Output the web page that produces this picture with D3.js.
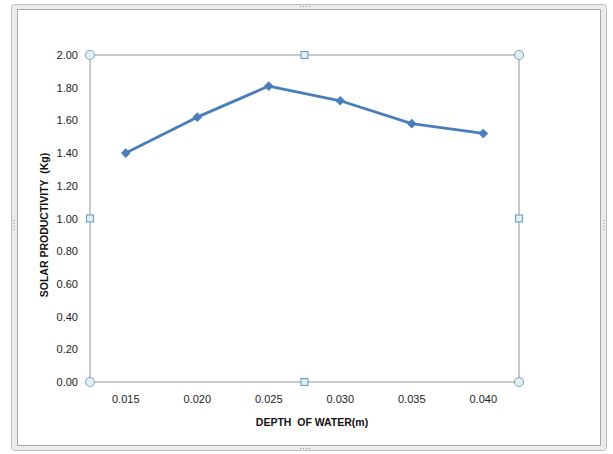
<!DOCTYPE html>
<html><head><meta charset="utf-8">
<script src="https://cdn.jsdelivr.net/npm/d3@7/dist/d3.min.js"></script>
<style>body{margin:0;background:#fff}svg{display:block}</style>
</head><body>
<svg id="c" width="613" height="454"></svg>
<script>
const categories = ["0.015","0.020","0.025","0.030","0.035","0.040"];
const values = [1.40, 1.62, 1.81, 1.72, 1.58, 1.52];
const yTicks = [0,0.2,0.4,0.6,0.8,1.0,1.2,1.4,1.6,1.8,2.0];

const svg = d3.select("#c");
const font = "'Liberation Sans', Arial, sans-serif";

// outer chart frame
svg.append("rect").attr("x",11.5).attr("y",4.5).attr("width",595).attr("height",446)
  .attr("rx",3).attr("fill","#ebebeb").attr("stroke","#bdbdbd");
svg.append("rect").attr("x",17.5).attr("y",9.5).attr("width",583).attr("height",436)
  .attr("fill","#fff").attr("stroke","#a6a6a6");
function dots(cx,cy,vert){
  for(let i=-1.5;i<=1.5;i++){
    svg.append("rect").attr("x",vert?cx-0.5:cx+i*3-0.5).attr("y",vert?cy+i*3-0.5:cy-0.5)
      .attr("width",1).attr("height",1).attr("fill","#999");
  }
}
dots(305,6.5,false); dots(305,448.5,false); dots(14,225,true); dots(604,225,true);

const m={l:90,r:519,t:55,b:382};
const x = d3.scaleBand().domain(categories).range([m.l,m.r]);
const y = d3.scaleLinear().domain([0,2]).range([m.b,m.t]);

svg.append("rect").attr("x",m.l).attr("y",m.t).attr("width",m.r-m.l).attr("height",m.b-m.t)
  .attr("fill","none").attr("stroke","#a6a6a6").attr("stroke-width",1.2);

const ya = svg.append("g").attr("transform",`translate(${m.l},0)`)
  .call(d3.axisLeft(y).tickValues(yTicks).tickFormat(d3.format(".2f")).tickSize(0).tickPadding(12));
ya.select(".domain").remove();
ya.selectAll("text").attr("font-family",font).attr("font-size",11).attr("fill","#222");

const xa = svg.append("g").attr("transform",`translate(0,${m.b})`)
  .call(d3.axisBottom(x).tickSize(0).tickPadding(13));
xa.select(".domain").remove();
xa.selectAll("text").attr("font-family",font).attr("font-size",11).attr("fill","#222");

const line = d3.line().x((d,i)=>x(categories[i])+x.bandwidth()/2).y(d=>y(d));
svg.append("path").datum(values).attr("d",line).attr("fill","none")
  .attr("stroke","#4a7ebb").attr("stroke-width",2.8).attr("stroke-linejoin","round");
svg.selectAll(".mk").data(values).enter().append("path")
  .attr("d",d3.symbol().type(d3.symbolSquare).size(34))
  .attr("transform",(d,i)=>`translate(${x(categories[i])+x.bandwidth()/2},${y(d)}) rotate(45)`)
  .attr("fill","#4a7ebb").attr("stroke","#4a7ebb").attr("stroke-width",1);

const cx=(m.l+m.r)/2, cy=(m.t+m.b)/2;
[[m.l,m.t],[m.r,m.t],[m.l,m.b],[m.r,m.b]].forEach(p=>{
  svg.append("circle").attr("cx",p[0]).attr("cy",p[1]).attr("r",4.5)
    .attr("fill","#dcf0f6").attr("stroke","#8aa6b4").attr("stroke-width",1.1);
});
[[cx,m.t],[cx,m.b],[m.l,cy],[m.r,cy]].forEach(p=>{
  svg.append("rect").attr("x",p[0]-3.5).attr("y",p[1]-3.5).attr("width",7).attr("height",7)
    .attr("fill","#dcf0f6").attr("stroke","#6f9dc0").attr("stroke-width",1.1);
});

svg.append("text").attr("x",312).attr("y",426).attr("text-anchor","middle")
  .attr("font-family",font).attr("font-weight","bold").attr("font-size",10.5).attr("fill","#111")
  .attr("xml:space","preserve").text("DEPTH  OF WATER(m)");
svg.append("text").attr("transform","translate(48,225) rotate(-90)").attr("text-anchor","middle")
  .attr("font-family",font).attr("font-weight","bold").attr("font-size",10.5).attr("fill","#111")
  .attr("xml:space","preserve").text("SOLAR PRODUCTIVITY  (Kg)");
</script>
</body></html>
